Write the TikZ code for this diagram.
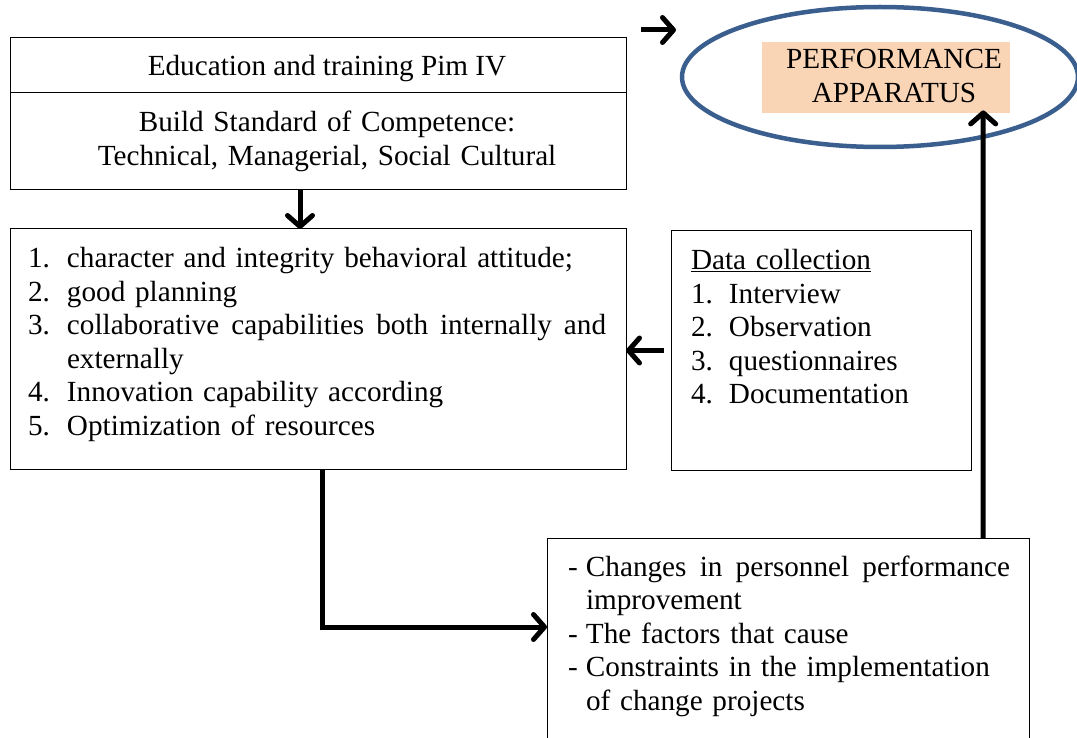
\documentclass[tikz,border=0pt]{standalone}
\usepackage{fontspec}
\setmainfont{Liberation Serif}
\usetikzlibrary{arrows.meta,shapes.geometric}
\definecolor{ellblue}{RGB}{58,95,143}
\definecolor{peach}{RGB}{250,213,181}
\newcommand\figfont{\fontsize{29.2pt}{33.6pt}\selectfont}
\newcommand\numA[1]{\makebox[39pt][l]{#1}}
\newcommand\numB[1]{\makebox[38pt][l]{#1}}
\newcommand\dashitem[1]{\makebox[18pt][l]{#1}}
\tikzset{
  box/.style={draw=black, line width=1pt, rectangle, inner sep=0pt, outer sep=0pt, anchor=north west},
  txt/.style={inner sep=0pt, outer sep=0pt, font=\figfont, align=left},
  arr/.style={line width=5pt, -{Straight Barb[length=11pt,width=25pt,round]}},
}
\begin{document}
\begin{tikzpicture}[x=1pt, y=-1pt]
  \useasboundingbox (0,0) rectangle (1077,738);
  \clip (0,0) rectangle (1077,738);
  \fill[white] (0,0) rectangle (1077,738);

  % boxes
  \node[box, minimum width=616pt, minimum height=55pt] (edu) at (10,38) {};
  \node[box, minimum width=616pt, minimum height=97pt] (build) at (10,93) {};
  \node[box, minimum width=616pt, minimum height=240pt] (crit) at (10,229) {};
  \node[box, minimum width=300pt, minimum height=239pt] (data) at (671,231) {};
  \node[box, minimum width=482pt, minimum height=212pt] (chg) at (547,538) {};

  % performance apparatus
  \node[draw=ellblue, line width=4.5pt, ellipse, inner sep=0pt,
        minimum width=396pt, minimum height=140pt] (ell) at (880,77) {};
  \node[fill=peach, rectangle, inner sep=0pt, anchor=north west,
        minimum width=248pt, minimum height=71pt] (perf) at (762,42) {};

  % texts
  \node[txt, anchor=base] (eduT) at (327,75.5) {Education and training Pim IV};
  \node[txt, anchor=base, text width=560pt, align=center] (buildT) at (327,131.5)
    {Build Standard of Competence:\\Technical, Managerial, Social Cultural};
  \node[txt, anchor=base west, text width=600pt] (critT) at (28,267.5) {%
    \numA{1.}character and integrity behavioral attitude;\\
    \numA{2.}good planning\\
    \numA{3.}\hbox to 539pt{collaborative\hfill capabilities\hfill both\hfill internally\hfill and}\\
    \hspace*{39pt}externally\\
    \numA{4.}Innovation capability according\\
    \numA{5.}Optimization of resources};
  \node[txt, anchor=base west, text width=270pt] (dataT) at (691,269.5) {%
    \underline{Data collection}\\
    \numB{1.}Interview\\
    \numB{2.}Observation\\
    \numB{3.}questionnaires\\
    \numB{4.}Documentation};
  \node[txt, anchor=base west, text width=460pt] (chgT) at (568,576) {%
    \dashitem{-}\hbox to 424pt{Changes\hfill in\hfill personnel\hfill performance}\\
    \hspace*{18pt}improvement\\
    \dashitem{-}The factors that cause\\
    \dashitem{-}Constraints in the implementation\\
    \hspace*{18pt}of change projects};
  \node[txt, anchor=base, text width=248pt, align=center] (perfT) at (894,69)
    {PERFORMANCE\\APPARATUS};

  % connectors
  \coordinate (inA) at (641,30);
  \coordinate (inB) at (676,30);
  \draw[arr] (inA) -- (inB);
  \draw[arr] ([xshift=-18pt]build.south) -- ([xshift=-18pt]crit.north);
  \draw[arr] ([xshift=-7pt]data.west) -- (crit.east |- data.west);
  \draw[arr] ([xshift=4pt]crit.south) |- ([yshift=17pt]chg.west);
  \draw[arr] ([xshift=195pt]chg.north) -- ([xshift=97pt,yshift=3pt]perf.south);
\end{tikzpicture}
\end{document}
